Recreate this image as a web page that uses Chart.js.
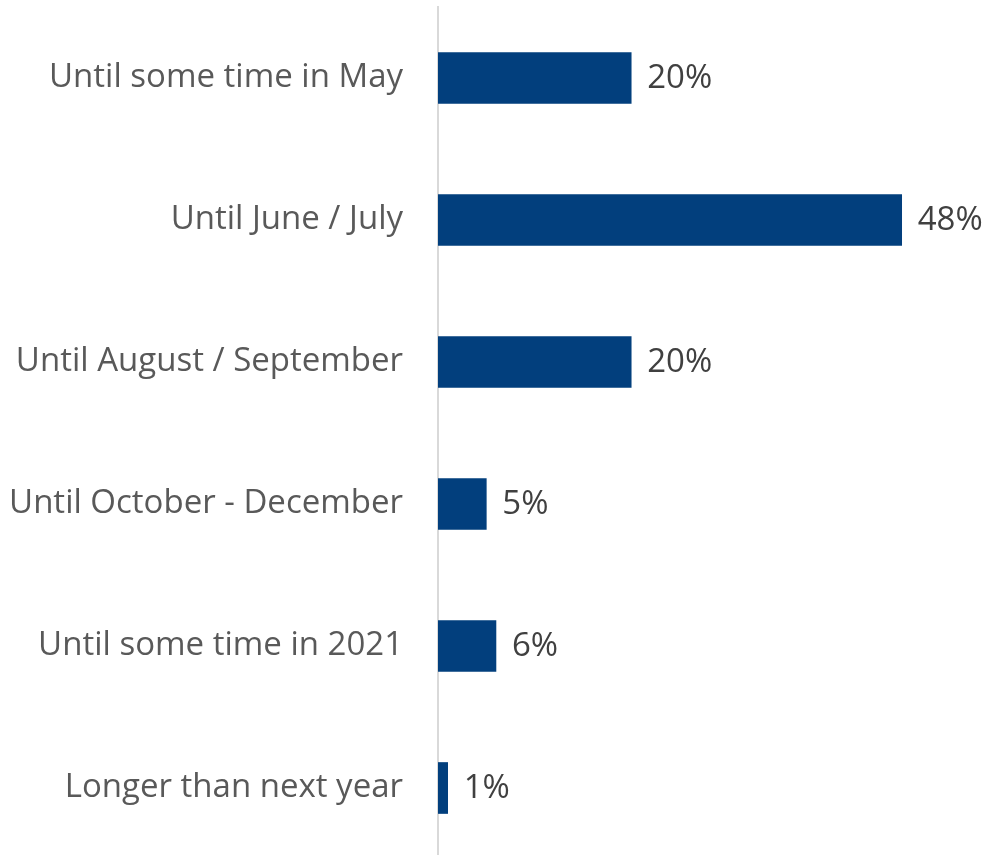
<!DOCTYPE html>
<html>
<head>
<meta charset="utf-8">
<script src="https://cdn.jsdelivr.net/npm/chart.js@4/dist/chart.umd.min.js"></script>
<style>
  html, body { margin: 0; padding: 0; background: #fff; overflow: hidden; }
  #wrap { width: 987px; height: 859px; }
</style>
</head>
<body>
<div id="wrap"><canvas id="chartPlazo"></canvas></div>
<script>
// respuestas por categoría (%)
const categorias = ['Until some time in May', 'Until June / July', 'Until August / September',
                    'Until October - December', 'Until some time in 2021', 'Longer than next year'];
const porcentajes = [20, 48, 20, 5, 6, 1];

const FUENTE = '"Open Sans", sans-serif';

// etiqueta de valor a la derecha de cada barra
const etiquetas = {
  id: 'etiquetas',
  afterDatasetsDraw(chart){
    const ctx = chart.ctx;
    ctx.save();
    ctx.font = '33px ' + FUENTE;
    ctx.fillStyle = '#404040';
    ctx.textBaseline = 'middle';
    chart.getDatasetMeta(0).data.forEach((bar, i) => {
      ctx.fillText(porcentajes[i] + '%', bar.x + 16, bar.y + 1);
    });
    ctx.restore();
  }
};

new Chart(document.getElementById('chartPlazo').getContext('2d'), {
  type: 'bar',
  data: {
    labels: categorias,
    datasets: [{ data: porcentajes, backgroundColor: '#023f7d', barThickness: 51 }]
  },
  options: {
    indexAxis: 'y',
    responsive: true,
    maintainAspectRatio: false,
    animation: false,
    layout: { padding: { top: 7, right: 66, bottom: 0, left: 0 } },
    plugins: { legend: { display: false }, tooltip: { enabled: false } },
    scales: {
      x: {
        min: 0, max: 50,
        display: false
      },
      y: {
        // eje fijo a 438px y sin relleno extra arriba/abajo
        afterFit(scale){ scale.width = 438; scale.paddingTop = 0; scale.paddingBottom = 0; },
        grid: { display: false, drawTicks: false },
        border: { display: true, color: '#d9d9d9', width: 2 },
        ticks: { color: '#595959', padding: 35, font: { family: FUENTE, size: 33 } }
      }
    }
  },
  plugins: [etiquetas]
});
</script>
</body>
</html>
